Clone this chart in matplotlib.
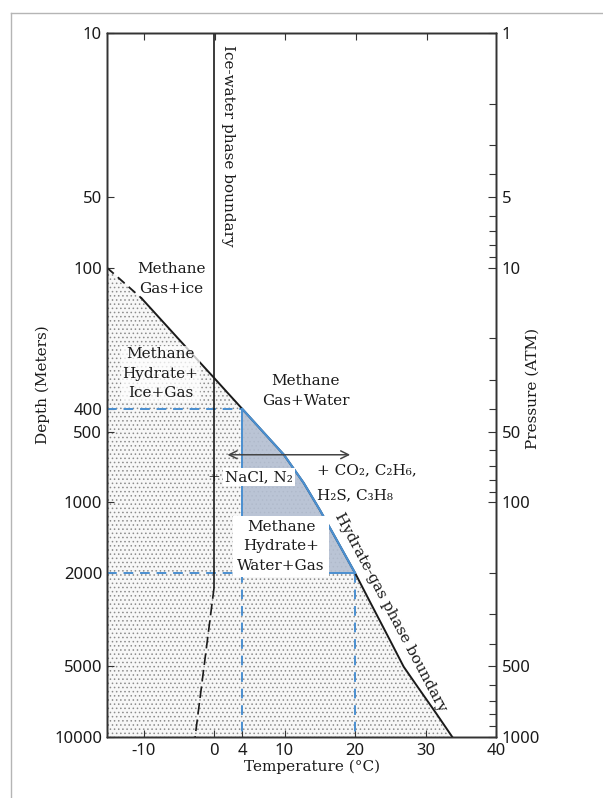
import numpy as np
import matplotlib
matplotlib.use('Agg')
from matplotlib import pyplot as plt
from matplotlib.ticker import NullLocator, FixedLocator, LogLocator
from matplotlib.lines import Line2D

# hydrate-gas phase boundary (temperature degC, depth m)
bnd_dash_t = [-15.2, -10.3]
bnd_dash_d = [100, 135]
bnd_t = [-10.3, -5.0, -2.25, 0.0, 2.2, 4.0, 6.9, 9.9, 12.7, 15.0, 17.5, 20.0,
         22.3, 24.8, 26.9, 29.1, 31.5, 33.8]
bnd_d = [135, 202, 249, 295, 349, 400, 499, 627, 826, 1077, 1466, 2000,
         2720, 3790, 5020, 6250, 7920, 10000]

# ice-water phase boundary
ice_t = [0.0, 0.0]
ice_d = [10, 2300]
ice_dash_t = [0.0, -2.7]
ice_dash_d = [2300, 10000]

# shaded window (4-20 degC, 400-2000 m)
win_t = [4, 20]
win_d = [400, 2000]

# arrow span
arr_t = [1.5, 19.7]
arr_d = 627

xticks = [-10, 0, 4, 10, 20, 30, 40]
topticks = [-10, 0, 10, 20, 30]
dticks = [10, 50, 100, 400, 500, 1000, 2000, 5000, 10000]
pticks = [1, 5, 10, 50, 100, 500, 1000]

xmin, xmax = -15.2, 39.8
dmin, dmax = 10, 10000

blue = '#4a8fd0'
ink = '#1a1a1a'
serif = 'DejaVu Serif'
sans = 'Noto Sans'

plt.rcParams['hatch.linewidth'] = 0.6

# prepare figure
fig = plt.figure(figsize=(6.03, 7.98), dpi=100)
ax = fig.add_axes([107/603, 1-737/798, 389/603, 704/798])
ax.set_xlim(xmin, xmax)
ax.set_yscale('log')
ax.set_ylim(dmax, dmin)

# stippled hydrate stability field
poly_t = np.r_[bnd_dash_t, bnd_t[1:], xmin, xmin]
poly_d = np.r_[bnd_dash_d, bnd_d[1:], dmax, bnd_dash_d[0]]
ax.fill(poly_t, poly_d, facecolor='#f7f7f7', edgecolor='#8c8c8c', hatch='....',
        linewidth=0, zorder=1)

# shaded window
t = np.array(bnd_t)
d = np.array(bnd_d)
sel = (t >= win_t[0]) & (t <= win_t[1])
ax.fill(np.r_[t[sel], win_t[0]], np.r_[d[sel], win_d[1]], facecolor='#b4bfd2',
        edgecolor='none', alpha=0.9, zorder=2)

# boundaries
ax.plot(bnd_dash_t, bnd_dash_d, color=ink, lw=1.3, ls=(0, (5, 3)), zorder=4)
ax.plot(bnd_t, bnd_d, color=ink, lw=1.4, zorder=4)
ax.plot(ice_t, ice_d, color=ink, lw=1.2, zorder=4)
ax.plot(ice_dash_t, ice_dash_d, color=ink, lw=1.2, ls=(0, (7, 3)), zorder=4)

# window outline
ax.plot(t[sel], d[sel], color=blue, lw=1.6, zorder=5)
ax.plot([win_t[0], win_t[0]], win_d, color=blue, lw=1.4, zorder=5)
ax.plot(win_t, [win_d[1], win_d[1]], color=blue, lw=1.4, zorder=5)
dash = dict(color=blue, lw=1.4, ls=(0, (5, 3.5)), zorder=3)
ax.plot([xmin, win_t[0]], [win_d[0], win_d[0]], **dash)
ax.plot([xmin, win_t[0]], [win_d[1], win_d[1]], **dash)
ax.plot([win_t[0], win_t[0]], [win_d[1], dmax], **dash)
ax.plot([win_t[1], win_t[1]], [win_d[1], dmax], **dash)

# arrow
ax.annotate('', xy=(arr_t[0], arr_d), xytext=(arr_t[1], arr_d),
            arrowprops=dict(arrowstyle='<->', color='#444444', lw=1.1,
                            mutation_scale=14), zorder=6)

# labels
txt = dict(family=serif, fontsize=11, color=ink, linespacing=1.5, zorder=7)
ax.text(2.0, 30.3, 'Ice-water phase boundary', rotation=270, ha='center',
        va='center', **txt)
ax.text(-6.1, 112, 'Methane\nGas+ice', ha='center', va='center', **txt)
ax.text(-7.6, 283, 'Methane\nHydrate+\nIce+Gas', ha='center', va='center',
        bbox=dict(facecolor='white', edgecolor='none', alpha=0.75, pad=1), **txt)
ax.text(13.0, 335, 'Methane\nGas+Water', ha='center', va='center', **txt)
ax.text(0.0, 780, '+', ha='center', va='center', **txt)
ax.text(1.6, 780, 'NaCl, N₂', ha='left', va='center',
        bbox=dict(facecolor='white', edgecolor='none', pad=1.5), **txt)
ax.text(14.6, 728, '+ CO₂, C₂H₆,', ha='left', va='center', **txt)
ax.text(14.6, 929, 'H₂S, C₃H₈', ha='left', va='center',
        bbox=dict(facecolor='white', edgecolor='none', pad=0.3), **txt)
ax.text(9.5, 1540, 'Methane\nHydrate+\nWater+Gas', ha='center', va='center',
        bbox=dict(facecolor='white', edgecolor='none', pad=3), **txt)
ax.text(25.0, 2950, 'Hydrate-gas phase boundary', rotation=-62,
        rotation_mode='anchor', ha='center', va='center', **txt)

# axes styling
for s in ax.spines.values():
    s.set_color('#333333')
    s.set_linewidth(1.0)
ax.set_xticks(xticks)
ax.set_xticklabels([str(v) for v in xticks], family=sans, fontsize=12)
ax.yaxis.set_major_locator(FixedLocator(dticks))
ax.yaxis.set_minor_locator(NullLocator())
ax.set_yticklabels([str(v) for v in dticks], family=sans, fontsize=12)
ax.tick_params(axis='both', direction='in', length=5, width=0.8,
               colors='#333333', labelcolor=ink)
ax.tick_params(axis='x', pad=4)

axt = ax.twiny()
axt.set_xlim(xmin, xmax)
axt.set_xticks(topticks)
axt.tick_params(axis='x', direction='in', length=5, width=0.8,
                colors='#333333', labeltop=False)

ax2 = ax.twinx()
ax2.set_yscale('log')
ax2.set_ylim(dmax / 10, dmin / 10)
ax2.yaxis.set_major_locator(FixedLocator(pticks))
ax2.yaxis.set_minor_locator(LogLocator(base=10, subs=np.arange(2, 10)))
ax2.set_yticklabels([str(v) for v in pticks], family=sans, fontsize=12)
ax2.tick_params(axis='y', which='major', direction='in', length=6, width=0.8,
                colors='#333333', labelcolor=ink, pad=4)
ax2.tick_params(axis='y', which='minor', direction='in', length=5, width=0.8,
                colors='#333333')
for a in (ax2, axt):
    for s in a.spines.values():
        s.set_color('#333333')
        s.set_linewidth(1.0)

# axis titles
fig.text(43/603, 1-385/798, 'Depth (Meters)', rotation=90, ha='center',
         va='center', family=serif, fontsize=11, color=ink)
fig.text(533/603, 1-388/798, 'Pressure (ATM)', rotation=90, ha='center',
         va='center', family=serif, fontsize=11, color=ink)
fig.text(312/603, 1-767/798, 'Temperature (°C)', ha='center', va='center',
         family=serif, fontsize=11, color=ink)

# page frame
fig.add_artist(Line2D([10.5/603, 10.5/603], [0, 1-12.5/798], color='#b5b5b5', lw=1))
fig.add_artist(Line2D([10.5/603, 1], [1-12.5/798, 1-12.5/798], color='#b5b5b5', lw=1))

fig.savefig('out.png', dpi=100)
